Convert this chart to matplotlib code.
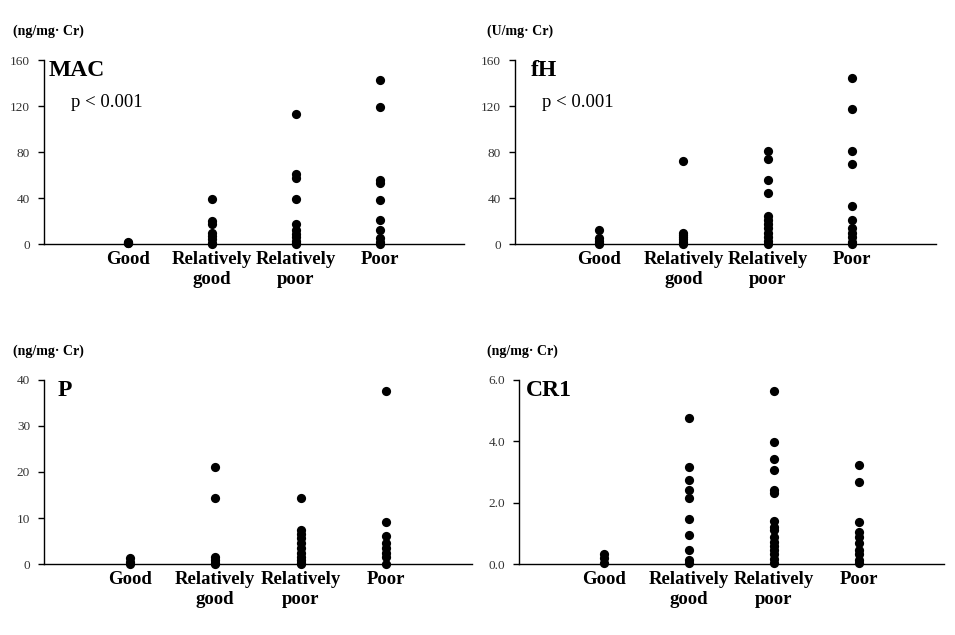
import matplotlib
matplotlib.use("Agg")
import matplotlib.pyplot as plt
from matplotlib.ticker import FixedLocator, FormatStrFormatter

categories = ["Good", "Relatively\ngood", "Relatively\npoor", "Poor"]

mac_good = [2.0, 1.2, 0.5]
mac_rgood = [39, 20, 17, 10, 7, 4, 1, 0]
mac_rpoor = [113, 61, 57, 39, 17, 12, 9, 6, 3, 1, 0]
mac_poor = [143, 119, 56, 53, 38, 21, 12, 5, 2, 0]

fh_good = [12, 5, 3, 1, 0]
fh_rgood = [72, 10, 8, 6, 4, 2, 0]
fh_rpoor = [81, 74, 56, 44, 24, 21, 17, 14, 10, 6, 3, 0]
fh_poor = [144, 117, 81, 70, 33, 21, 14, 10, 6, 2, 0]

p_good = [1.2, 0.5, 0.0]
p_rgood = [21.1, 14.3, 1.6, 0.9, 0.3, 0.0]
p_rpoor = [14.3, 7.5, 6.5, 5.6, 4.5, 3.4, 2.5, 1.6, 0.9, 0.3, 0.0]
p_poor = [37.7, 9.1, 6.1, 4.5, 3.5, 2.5, 1.5, 0.0]

cr1_good = [0.32, 0.2, 0.02]
cr1_rgood = [4.75, 3.15, 2.73, 2.41, 2.16, 1.48, 0.96, 0.46, 0.13, 0.02]
cr1_rpoor = [5.65, 3.99, 3.41, 3.07, 2.41, 2.30, 1.41, 1.22, 1.10, 0.87, 0.73,
             0.59, 0.46, 0.32, 0.15, 0.02]
cr1_poor = [3.23, 2.68, 1.38, 1.03, 0.89, 0.70, 0.46, 0.33, 0.13, 0.02]

mac_ticks = [0, 40, 80, 120, 160]
fh_ticks = [0, 40, 80, 120, 160]
p_ticks = [0, 10, 20, 30, 40]
cr1_ticks = [0.0, 2.0, 4.0, 6.0]

panels = [
    dict(name="MAC", unit="(ng/mg\u00b7 Cr)", groups=[mac_good, mac_rgood, mac_rpoor, mac_poor],
         ticks=mac_ticks, fmt="%d", pval="p < 0.001",
         rect=[0.0461, 0.6157, 0.4398, 0.2898], title_x=0.012, unit_pos=(0.014, 0.951)),
    dict(name="fH", unit="(U/mg\u00b7 Cr)", groups=[fh_good, fh_rgood, fh_rpoor, fh_poor],
         ticks=fh_ticks, fmt="%d", pval="p < 0.001",
         rect=[0.5393, 0.6157, 0.4408, 0.2898], title_x=0.038, unit_pos=(0.510, 0.951)),
    dict(name="P", unit="(ng/mg\u00b7 Cr)", groups=[p_good, p_rgood, p_rpoor, p_poor],
         ticks=p_ticks, fmt="%d", pval=None,
         rect=[0.0461, 0.1118, 0.4482, 0.2898], title_x=0.032, unit_pos=(0.014, 0.447)),
    dict(name="CR1", unit="(ng/mg\u00b7 Cr)", groups=[cr1_good, cr1_rgood, cr1_rpoor, cr1_poor],
         ticks=cr1_ticks, fmt="%.1f", pval=None,
         rect=[0.5435, 0.1118, 0.445, 0.2898], title_x=0.016, unit_pos=(0.510, 0.447)),
]

serif = ["Liberation Serif", "DejaVu Serif"]

fig = plt.figure(figsize=(9.55, 6.35), dpi=100)
fig.patch.set_facecolor("white")

for pnl in panels:
    ax = fig.add_axes(pnl["rect"])
    for i, vals in enumerate(pnl["groups"]):
        ax.scatter([i + 1] * len(vals), vals, s=44, color="black", zorder=3,
                   clip_on=False, linewidths=0)
    ax.set_xlim(0, 5)
    ax.set_ylim(pnl["ticks"][0], pnl["ticks"][-1])
    ax.yaxis.set_major_locator(FixedLocator(pnl["ticks"]))
    ax.yaxis.set_major_formatter(FormatStrFormatter(pnl["fmt"]))
    ax.set_xticks(range(1, 5))
    ax.set_xticklabels(categories, fontfamily=serif, fontweight="bold",
                       fontsize=13.5, linespacing=1.22)
    ax.tick_params(axis="x", length=0, pad=5)
    ax.tick_params(axis="y", length=4, width=1, direction="out", pad=6,
                   labelsize=9.5, labelcolor="#333333", color="black")
    for lab in ax.get_yticklabels():
        lab.set_fontfamily(serif)
    for s in ["top", "right"]:
        ax.spines[s].set_visible(False)
    for s in ["left", "bottom"]:
        ax.spines[s].set_linewidth(1.0)
        ax.spines[s].set_color("black")
    ax.text(pnl["title_x"], 1.0, pnl["name"], transform=ax.transAxes,
            fontfamily=serif, fontweight="bold", fontsize=17, va="top", ha="left")
    if pnl["pval"]:
        ax.text(0.065, 0.77, pnl["pval"], transform=ax.transAxes,
                fontfamily=serif, fontsize=13.5, va="center", ha="left")
    fig.text(pnl["unit_pos"][0], pnl["unit_pos"][1], pnl["unit"],
             fontfamily=serif, fontweight="bold", fontsize=10,
             va="center", ha="left")

fig.savefig("out.png", dpi=100, facecolor="white")
